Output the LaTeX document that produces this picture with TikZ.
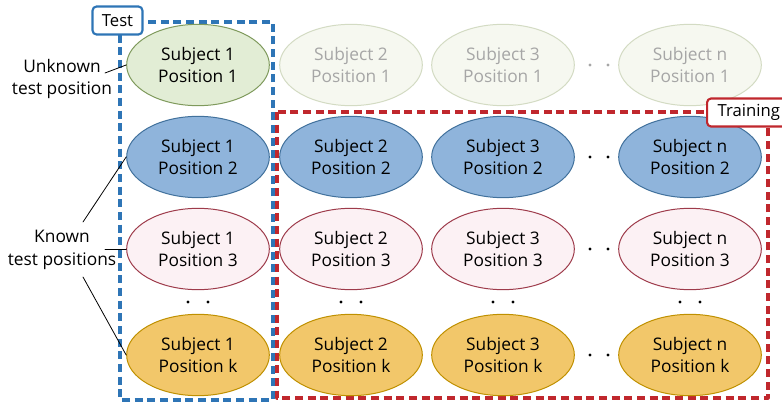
\documentclass[tikz,border=0pt]{standalone}
\usepackage{fontspec}
\setmainfont{Open Sans}
\usetikzlibrary{shapes.geometric}

\definecolor{testblue}{HTML}{2E75B6}
\definecolor{trainred}{HTML}{C0272D}
\definecolor{unkfill}{HTML}{E2EDD5}
\definecolor{unkdraw}{HTML}{7F9A5C}
\definecolor{fadefill}{HTML}{F6F8F0}
\definecolor{fadedraw}{HTML}{D3DBC3}
\definecolor{fadetext}{HTML}{A6A6A6}
\definecolor{bluefill}{HTML}{8FB4DB}
\definecolor{bluedraw}{HTML}{41719C}
\definecolor{pinkfill}{HTML}{FCF1F4}
\definecolor{pinkdraw}{HTML}{9E3B4B}
\definecolor{goldfill}{HTML}{F2C76A}
\definecolor{golddraw}{HTML}{BF9000}

\begin{document}
\begin{tikzpicture}[x=0.75pt, y=-0.75pt, line cap=round, line join=round]
  % ---- Styles ----
  \tikzset{
    posnode/.style={ellipse, draw, line width=0.75pt, minimum width=107pt,
      minimum height=61pt, inner sep=0pt, align=center,
      font=\fontsize{13}{17}\selectfont},
    unknown/.style={posnode, fill=unkfill, draw=unkdraw},
    faded/.style={posnode, fill=fadefill, draw=fadedraw, text=fadetext},
    row2/.style={posnode, fill=bluefill, draw=bluedraw},
    row3/.style={posnode, fill=pinkfill, draw=pinkdraw},
    rowk/.style={posnode, fill=goldfill, draw=golddraw},
    setbox/.style={line width=2.4pt, dash pattern=on 6pt off 3.5pt, line cap=butt},
    tag/.style={draw, fill=white, rounded corners=3pt, line width=1.6pt,
      minimum height=21pt, inner xsep=7pt, font=\fontsize{12.5}{17}\selectfont},
    note/.style={align=center, font=\fontsize{13}{17}\selectfont},
    lead/.style={line width=0.6pt},
  }

  \useasboundingbox (0,0) rectangle (782,403);

  % ---- Sets ----
  \draw[setbox, testblue] (120,22) rectangle (273,400);
  \draw[setbox, trainred] (277,112) rectangle (768,398);

  % ---- Positions ----
  \node[unknown] (s1p1) at (198,65) {Subject 1\\Position 1};
  \foreach \s/\x in {2/351, 3/503, n/690} {
    \node[faded] (s\s p1) at (\x,65) {Subject \s\\Position 1};
  }
  \foreach \s/\x in {1/198, 2/351, 3/503, n/690} {
    \node[row2] (s\s p2) at (\x,157) {Subject \s\\Position 2};
    \node[row3] (s\s p3) at (\x,249) {Subject \s\\Position 3};
    \node[rowk] (s\s pk) at (\x,355) {Subject \s\\Position k};
    % vertical dots
    \fill (\x-10,302) circle[radius=1.3pt];
    \fill (\x+10,302) circle[radius=1.3pt];
  }

  % horizontal dots
  \fill[fadetext] (590,65) circle[radius=1.3pt];
  \fill[fadetext] (608,65) circle[radius=1.3pt];
  \foreach \y in {157,249,355} {
    \fill (590,\y) circle[radius=1.3pt];
    \fill (608,\y) circle[radius=1.3pt];
  }

  % ---- Tags ----
  \node[tag, draw=testblue] (test) at (117.5,20.5) {Test};
  \node[tag, draw=trainred, anchor=west, inner xsep=8pt] (train) at (706,112.5) {Training};

  % ---- Notes ----
  \node[note] (unk) at (62,79) {Unknown\\test position};
  \node[note] (known) at (62,250) {Known\\test positions};

  \coordinate (u1) at (105,73);
  \coordinate (k2) at (83,222);
  \coordinate (k3) at (105,249);
  \coordinate (kk) at (83,277);
  \draw[lead] (u1) -- (s1p1.west);
  \draw[lead] (k2) -- (s1p2.west);
  \draw[lead] (k3) -- (s1p3.west);
  \draw[lead] (kk) -- (s1pk.west);

\end{tikzpicture}
\end{document}
